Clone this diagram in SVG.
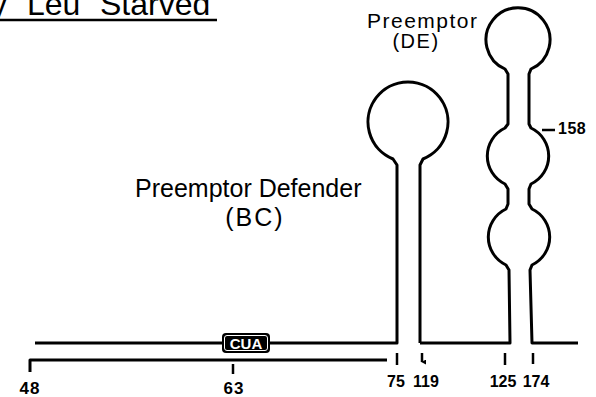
<svg xmlns="http://www.w3.org/2000/svg" width="596" height="397" viewBox="0 0 596 397">
<style>
.ln{fill:none;stroke:#000;stroke-width:3;stroke-linejoin:round;stroke-linecap:butt}
.tk{fill:none;stroke:#000;stroke-width:2.5}
.lbl{font-family:"Liberation Sans",Arial,sans-serif;fill:#000}
.num{font-family:"Liberation Sans",Arial,sans-serif;font-weight:bold;fill:#000}
</style>
<defs>
<marker id="ah" viewBox="0 0 6 6" refX="3" refY="5" markerWidth="5" markerHeight="5" orient="auto-start-reverse" markerUnits="userSpaceOnUse">
<path d="M0,0 L3,6 L6,0 Z" fill="#000"/>
</marker>
</defs>
<rect width="596" height="397" fill="#fff"/>
<g id="title">
<text class="lbl" font-size="32" y="15"><tspan x="-9">y</tspan><tspan x="27">Leu</tspan><tspan x="100">Starved</tspan></text>
<line x1="0" y1="20" x2="217" y2="20" class="tk"/>
</g>
<g id="connectors">
<path class="ln" d="M35,343 H397 V165 L393,159 A40,40 0 1 1 423,159 L420,165 V343"/>
<path class="ln" d="M420,343 H510 L509,270 L506,265 A31,31 0 0 1 506,209 L508,204 V189 L505,184 A31,31 0 0 1 505,128 L508,124 V74 L505,69 A32,32 0 1 1 531,69 L529,74 V124 L531,128 A31,31 0 0 1 531,184 L529,189 V204 L532,209 A31,31 0 0 1 532,265 L530,270 L532,343 H578"/>
<path class="ln" d="M30,372 V360 H387"/>
<line class="tk" x1="233" y1="364" x2="233" y2="374"/>
<line class="tk" x1="397" y1="353" x2="397" y2="365"/>
<line class="tk" x1="422" y1="353" x2="422" y2="362" marker-end="url(#ah)"/>
<line class="tk" x1="505" y1="353" x2="505" y2="365"/>
<line class="tk" x1="533" y1="353" x2="533" y2="364"/>
<line class="tk" x1="542" y1="130" x2="555" y2="130"/>
</g>
<g id="cua">
<rect x="222" y="333" width="48" height="20" rx="4" fill="#000"/>
<rect x="224.5" y="335.5" width="43" height="15" rx="2.5" fill="none" stroke="#fff" stroke-width="1"/>
<text class="num" x="246" y="349" font-size="15" text-anchor="middle" style="fill:#fff">CUA</text>
</g>
<g id="bc-label">
<text class="lbl" x="135" y="197" font-size="25">Preemptor Defender</text>
<text class="lbl" x="255" y="226" font-size="25" letter-spacing="2" text-anchor="middle">(BC)</text>
</g>
<g id="de-label">
<text class="lbl" x="367" y="28" font-size="21" letter-spacing="1.5">Preemptor</text>
<text class="lbl" x="416" y="48" font-size="20" letter-spacing="1.5" text-anchor="middle">(DE)</text>
</g>
<g id="numbers">
<text class="num" x="30" y="394" font-size="17" letter-spacing="1" text-anchor="middle">48</text>
<text class="num" x="234" y="394" font-size="17" letter-spacing="1" text-anchor="middle">63</text>
<text class="num" x="396" y="387" font-size="16" text-anchor="middle">75</text>
<text class="num" x="426" y="387" font-size="16" text-anchor="middle">119</text>
<text class="num" x="503" y="387" font-size="16" text-anchor="middle">125</text>
<text class="num" x="536" y="387" font-size="16" text-anchor="middle">174</text>
<text class="num" x="558" y="134" font-size="16" letter-spacing="0.5">158</text>
</g>
</svg>
